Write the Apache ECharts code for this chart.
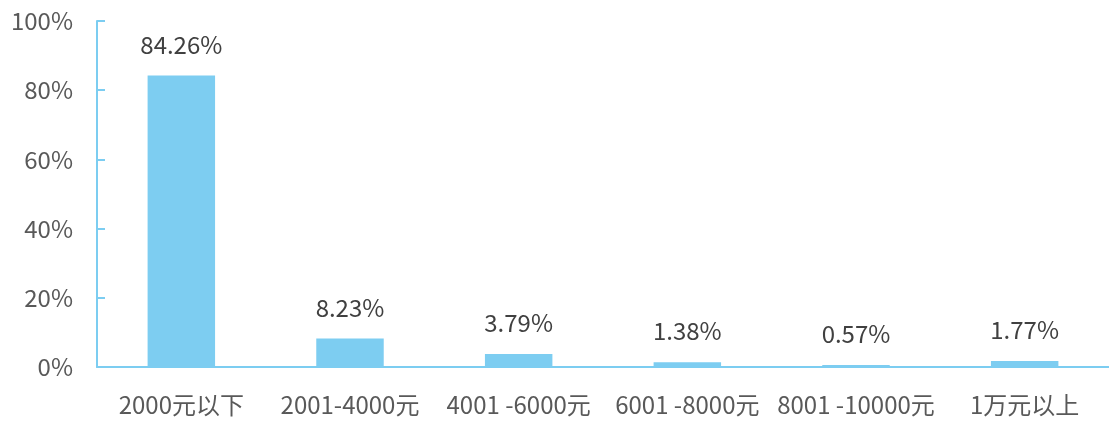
<!DOCTYPE html>
<html><head><meta charset="utf-8">
<script src="https://cdn.jsdelivr.net/npm/echarts@6/dist/echarts.min.js"></script>
<style>html,body{margin:0;padding:0;background:#fff}#c{width:1109px;height:421px}</style>
</head><body><div id="c"></div>
<script>
var categories = ['2000元以下','2001-4000元','4001 -6000元','6001 -8000元','8001 -10000元','1万元以上'];
var values = [84.26, 8.23, 3.79, 1.38, 0.57, 1.77];
var axisColor = '#7ccdf1';
var chart = echarts.init(document.getElementById('c'));
chart.setOption({
  animation:false,
  grid:{left:97,right:0,top:21,bottom:54,containLabel:false},
  xAxis:{type:'category',data:categories,
    axisLine:{lineStyle:{color:axisColor,width:2}},
    axisTick:{inside:true,length:8,lineStyle:{color:axisColor,width:2}},
    axisLabel:{color:'#595959',fontSize:24,margin:26,interval:0,fontFamily:'Noto Sans CJK SC'}},
  yAxis:{type:'value',min:0,max:100,interval:20,
    splitLine:{show:false},
    axisLine:{show:true,lineStyle:{color:axisColor,width:2}},
    axisTick:{show:true,inside:true,length:8,lineStyle:{color:axisColor,width:2}},
    axisLabel:{color:'#595959',fontSize:24,margin:24,formatter:'{value}%',fontFamily:'Noto Sans CJK SC'}},
  series:[{type:'bar',data:values,barWidth:'40%',
    itemStyle:{color:'#7dcdf1'},
    label:{show:true,position:'top',distance:19,color:'#404040',fontSize:24,fontFamily:'Noto Sans CJK SC',
      formatter:function(p){return p.value.toFixed(2)+'%';}}}]
});
</script></body></html>
